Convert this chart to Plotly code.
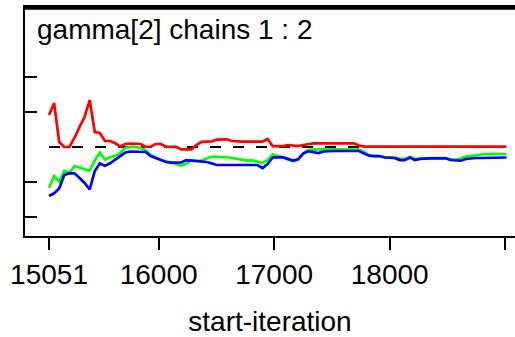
import plotly.graph_objects as go

start_iter = 15051
step_iter = 44
n_points = 91
iterations = [start_iter + step_iter * i for i in range(n_points)]

red_ratio = [1.457, 1.629, 1.071, 1.0, 1.0, 1.129, 1.286, 1.429, 1.671, 1.214,
             1.2, 1.086, 1.086, 1.057, 1.007, 1.043, 1.05, 1.05, 1.043, 1.004,
             1.004, 1.043, 1.043, 1.004, 1.004, 1.004, 0.967, 0.967, 0.967, 1.029,
             1.074, 1.076, 1.079, 1.107, 1.11, 1.11, 1.086, 1.076, 1.076, 1.076,
             1.076, 1.076, 1.076, 1.114, 1.014, 1.014, 1.014, 1.029, 1.021, 1.014,
             1.029, 1.043, 1.053, 1.053, 1.053, 1.053, 1.053, 1.053, 1.053, 1.053,
             1.053, 1.021] + [1.005] * 29

green_pooled = [0.419, 0.586, 0.504, 0.657, 0.629, 0.726, 0.71, 0.681, 0.664, 0.807,
                0.921, 0.821, 0.853, 0.871, 0.914, 0.986, 1.004, 1.004, 0.986, 0.957,
                0.886, 0.85, 0.814, 0.8, 0.779, 0.767, 0.736, 0.764, 0.811, 0.804,
                0.804, 0.836, 0.861, 0.861, 0.861, 0.854, 0.843, 0.831, 0.81, 0.807,
                0.81, 0.786, 0.771, 0.814, 0.893, 0.871, 0.857, 0.821, 0.796, 0.821,
                0.907, 0.957, 0.967, 0.967, 0.967, 0.967, 0.967, 0.967, 0.967, 0.967,
                0.967, 0.964, 0.929, 0.879, 0.871, 0.871, 0.857, 0.857, 0.85, 0.836,
                0.83, 0.857, 0.83, 0.836, 0.843, 0.843, 0.843, 0.843, 0.843, 0.826,
                0.82, 0.836, 0.864, 0.871, 0.886, 0.893, 0.9, 0.9, 0.9, 0.9, 0.9]

blue_within = [0.3, 0.339, 0.407, 0.6, 0.624, 0.624, 0.557, 0.486, 0.393, 0.657,
               0.764, 0.731, 0.767, 0.821, 0.879, 0.921, 0.936, 0.936, 0.936, 0.929,
               0.871, 0.843, 0.807, 0.786, 0.776, 0.776, 0.779, 0.814, 0.807, 0.793,
               0.79, 0.786, 0.767, 0.743, 0.743, 0.743, 0.743, 0.743, 0.743, 0.743,
               0.743, 0.743, 0.7, 0.757, 0.85, 0.853, 0.853, 0.831, 0.807, 0.824,
               0.907, 0.94, 0.929, 0.914, 0.936, 0.943, 0.943, 0.943, 0.943, 0.943,
               0.943, 0.943, 0.906, 0.876, 0.871, 0.871, 0.85, 0.85, 0.843, 0.814,
               0.814, 0.85, 0.814, 0.831, 0.839, 0.839, 0.839, 0.839, 0.839, 0.814,
               0.804, 0.804, 0.829, 0.839, 0.843, 0.843, 0.846, 0.85, 0.85, 0.85, 0.85]

reference_level = 1.0
x_tick_vals = [15051, 16000, 17000, 18000, 19000]
x_tick_text = ["15051", "16000", "17000", "18000", ""]
y_tick_vals = [0.0, 0.5, 1.5, 2.0]
title_text = "gamma[2] chains 1 : 2"
x_title = "start-iteration"

FONT = "Liberation Sans, Arial, sans-serif"
FS = 28
LW = 2.7

fig = go.Figure()
fig.add_trace(go.Scatter(x=[iterations[0], iterations[-1]],
                         y=[reference_level, reference_level],
                         mode="lines",
                         line=dict(color="black", width=2.2, dash="11px,12px"),
                         hoverinfo="skip"))
fig.add_trace(go.Scatter(x=iterations, y=red_ratio, mode="lines",
                         line=dict(color="#FF0000", width=LW)))
fig.add_trace(go.Scatter(x=iterations, y=green_pooled, mode="lines",
                         line=dict(color="#00FF00", width=LW)))
fig.add_trace(go.Scatter(x=iterations, y=blue_within, mode="lines",
                         line=dict(color="#0000FF", width=LW)))

fig.update_layout(
    width=515, height=337,
    margin=dict(l=25, r=0, t=7, b=101),
    paper_bgcolor="white", plot_bgcolor="white",
    showlegend=False,
    font=dict(family=FONT, size=FS, color="black"),
    xaxis=dict(range=[14843, 19085], showgrid=False, zeroline=False,
               showline=True, linecolor="black", linewidth=2, mirror=True,
               ticks="outside", ticklen=12, tickwidth=2, tickcolor="black",
               tickvals=x_tick_vals, ticktext=x_tick_text,
               ticklabelstandoff=0,
               tickfont=dict(family=FONT, size=FS),
               title=dict(text=x_title, font=dict(family=FONT, size=FS), standoff=26)),
    yaxis=dict(range=[-0.271, 3.0], showgrid=False, zeroline=False,
               showline=True, linecolor="black", linewidth=2, mirror=False,
               ticks="inside", ticklen=12, tickwidth=2, tickcolor="black",
               tickvals=y_tick_vals, showticklabels=False),
    shapes=[dict(type="line", xref="paper", yref="paper", x0=0, x1=1, y0=0.995, y1=0.995,
                 line=dict(color="black", width=3), layer="above")],
    annotations=[dict(text=title_text, xref="paper", yref="paper",
                      x=0.02, y=0.9, xanchor="left", yanchor="middle",
                      showarrow=False, font=dict(family=FONT, size=FS, color="black"))],
)

fig.write_html("out.html", config={"displayModeBar": False},
               post_script="document.body.style.margin='0';")
